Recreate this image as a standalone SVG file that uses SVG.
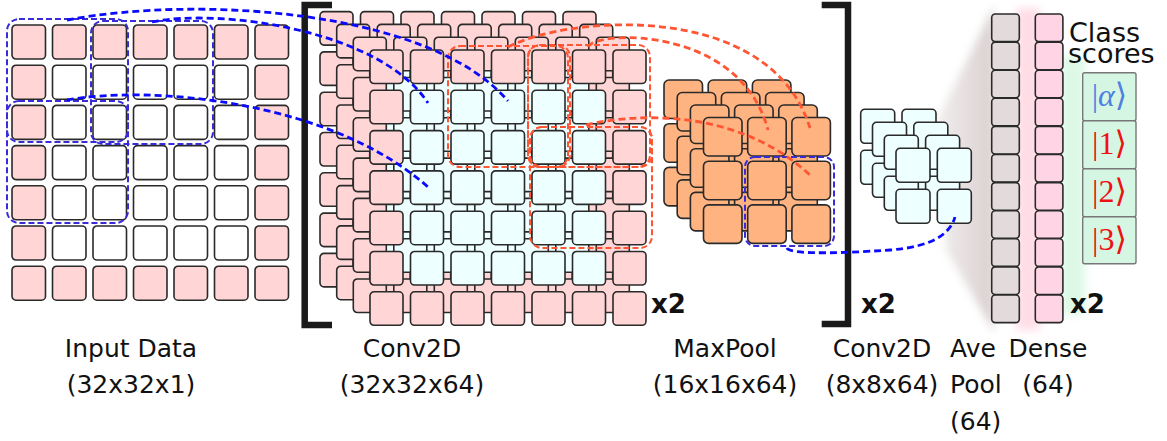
<svg xmlns="http://www.w3.org/2000/svg" xmlns:xlink="http://www.w3.org/1999/xlink" width="1167" height="441" viewBox="0 0 1167 441">
<style>
.cell{stroke:#2a2a2a;stroke-width:1.6}
.p{fill:#ffd5d5}.w{fill:#ffffff}.c{fill:#eeffff}.o{fill:#ffb380}.g{fill:#e3dbdb}.d{fill:#ffd5e5}
.bd{fill:none;stroke:#0a0aff;stroke-width:2.8;stroke-dasharray:7 4}
.br{fill:none;stroke:#3a2bd8;stroke-width:2;stroke-dasharray:6 3}
.rd{fill:none;stroke:#ff5533;stroke-width:2.8;stroke-dasharray:7 4}
.rr{fill:none;stroke:#ff5533;stroke-width:2;stroke-dasharray:6 3}
.lbl{font-family:"DejaVu Sans","Liberation Sans",sans-serif;font-size:25px;fill:#111}
.x2{font-family:"DejaVu Sans","Liberation Sans",sans-serif;font-weight:bold;font-size:26px;fill:#111}
.br6{fill:none;stroke:#1a1a1a;stroke-width:6.5}
.ket{font-family:"Liberation Serif","DejaVu Serif",serif;font-size:32px;text-anchor:middle}
.box{fill:#d5f6e3;stroke:#777;stroke-width:1.4}
</style>
<defs>
<filter id="blur" x="-50%" y="-20%" width="200%" height="140%"><feGaussianBlur stdDeviation="4"/></filter>
<linearGradient id="gw" x1="0" y1="0" x2="1" y2="0"><stop offset="0" stop-color="#e2dada" stop-opacity="0.5"/><stop offset="1" stop-color="#d9cfcf" stop-opacity="1"/></linearGradient>
<g id="inP"><rect class="cell p" x="0" y="0" width="33.5" height="34" rx="4"/><rect class="cell p" x="40.5" y="0" width="33.5" height="34" rx="4"/><rect class="cell p" x="81" y="0" width="33.5" height="34" rx="4"/><rect class="cell p" x="121.5" y="0" width="33.5" height="34" rx="4"/><rect class="cell p" x="162" y="0" width="33.5" height="34" rx="4"/><rect class="cell p" x="202.5" y="0" width="33.5" height="34" rx="4"/><rect class="cell p" x="243" y="0" width="33.5" height="34" rx="4"/></g>
<g id="inM"><rect class="cell p" x="0" y="0" width="33.5" height="34" rx="4"/><rect class="cell w" x="40.5" y="0" width="33.5" height="34" rx="4"/><rect class="cell w" x="81" y="0" width="33.5" height="34" rx="4"/><rect class="cell w" x="121.5" y="0" width="33.5" height="34" rx="4"/><rect class="cell w" x="162" y="0" width="33.5" height="34" rx="4"/><rect class="cell w" x="202.5" y="0" width="33.5" height="34" rx="4"/><rect class="cell p" x="243" y="0" width="33.5" height="34" rx="4"/></g>
<g id="cvP"><rect class="cell p" x="0" y="0" width="33" height="33.5" rx="4"/><rect class="cell p" x="40.5" y="0" width="33" height="33.5" rx="4"/><rect class="cell p" x="81" y="0" width="33" height="33.5" rx="4"/><rect class="cell p" x="121.5" y="0" width="33" height="33.5" rx="4"/><rect class="cell p" x="162" y="0" width="33" height="33.5" rx="4"/><rect class="cell p" x="202.5" y="0" width="33" height="33.5" rx="4"/><rect class="cell p" x="243" y="0" width="33" height="33.5" rx="4"/></g>
<g id="cvM"><rect class="cell p" x="0" y="0" width="33" height="33.5" rx="4"/><rect class="cell c" x="40.5" y="0" width="33" height="33.5" rx="4"/><rect class="cell c" x="81" y="0" width="33" height="33.5" rx="4"/><rect class="cell c" x="121.5" y="0" width="33" height="33.5" rx="4"/><rect class="cell c" x="162" y="0" width="33" height="33.5" rx="4"/><rect class="cell c" x="202.5" y="0" width="33" height="33.5" rx="4"/><rect class="cell p" x="243" y="0" width="33" height="33.5" rx="4"/></g>
<g id="cvL"><use href="#cvP" y="0"/><use href="#cvM" y="40.3"/><use href="#cvM" y="80.6"/><use href="#cvM" y="120.9"/><use href="#cvM" y="161.2"/><use href="#cvM" y="201.5"/><use href="#cvP" y="241.8"/></g>
<g id="mpL"><rect class="cell o" x="0" y="0" width="38.5" height="38.5" rx="5"/><rect class="cell o" x="44.2" y="0" width="38.5" height="38.5" rx="5"/><rect class="cell o" x="88.4" y="0" width="38.5" height="38.5" rx="5"/><rect class="cell o" x="0" y="43.7" width="38.5" height="38.5" rx="5"/><rect class="cell o" x="44.2" y="43.7" width="38.5" height="38.5" rx="5"/><rect class="cell o" x="88.4" y="43.7" width="38.5" height="38.5" rx="5"/><rect class="cell o" x="0" y="87.4" width="38.5" height="38.5" rx="5"/><rect class="cell o" x="44.2" y="87.4" width="38.5" height="38.5" rx="5"/><rect class="cell o" x="88.4" y="87.4" width="38.5" height="38.5" rx="5"/></g>
<g id="scL"><rect class="cell c" x="0" y="0" width="34" height="34" rx="4"/><rect class="cell c" x="41.3" y="0" width="34" height="34" rx="4"/><rect class="cell c" x="0" y="41" width="34" height="34" rx="4"/><rect class="cell c" x="41.3" y="41" width="34" height="34" rx="4"/></g>
</defs>
<rect width="1167" height="441" fill="#ffffff"/>

<g id="glow">
<polygon points="938,118 994,6 994,332 946,250" fill="url(#gw)" filter="url(#blur)"/>
<rect x="1016" y="8" width="24" height="322" fill="#ffdde7" filter="url(#blur)"/>
<rect x="1061" y="55" width="24" height="260" fill="#ddf9e6" filter="url(#blur)"/>
</g>

<g id="input-data">
<use href="#inP" x="12" y="25"/><use href="#inM" x="12" y="65.2"/><use href="#inM" x="12" y="105.4"/><use href="#inM" x="12" y="145.6"/><use href="#inM" x="12" y="185.8"/><use href="#inM" x="12" y="226"/><use href="#inP" x="12" y="266.2"/>
<rect class="br" x="7" y="19" width="121" height="204" rx="12"/>
<rect class="br" x="91" y="21" width="122" height="123" rx="12"/>
<rect class="br" x="7" y="101" width="121" height="41" rx="12"/>
<text class="lbl" x="131" y="357" text-anchor="middle">Input Data</text>
<text class="lbl" x="131" y="393" text-anchor="middle">(32x32x1)</text>
</g>

<g id="brackets">
<path class="br6" d="M332,5 H304.7 V325 H332"/>
<path class="br6" d="M821.7,5 H848 V324 H821.7"/>
<text class="x2" x="861" y="313">x2</text>
</g>

<g id="conv2d-1">
<use href="#cvL" x="320" y="11.6"/>
<use href="#cvL" x="336.7" y="24.4"/>
<use href="#cvL" x="353.3" y="37.2"/>
<use href="#cvL" x="370" y="50"/>
<rect class="rr" x="448" y="46" width="120" height="121" rx="12"/>
<rect class="rr" x="528" y="45" width="122" height="122" rx="12"/>
<rect class="rr" x="528" y="45" width="42" height="122" rx="12"/>
<rect class="rr" x="530" y="127" width="122" height="40" rx="12"/>
<rect class="rr" x="530" y="127" width="122" height="121" rx="12"/>
<text class="x2" x="651" y="313">x2</text>
<text class="lbl" x="412" y="357" text-anchor="middle">Conv2D</text>
<text class="lbl" x="412" y="393" text-anchor="middle">(32x32x64)</text>
</g>

<g id="maxpool">
<use href="#mpL" x="664" y="80"/>
<use href="#mpL" x="677.2" y="92.5"/>
<use href="#mpL" x="690.4" y="105"/>
<use href="#mpL" x="703.5" y="117.5"/>
<rect class="br" x="745" y="157" width="89" height="89" rx="10"/>
<text class="lbl" x="725" y="357" text-anchor="middle">MaxPool</text>
<text class="lbl" x="725" y="393" text-anchor="middle">(16x16x64)</text>
</g>

<g id="conv2d-2">
<use href="#scL" x="860.7" y="109.3"/>
<use href="#scL" x="872.5" y="122.3"/>
<use href="#scL" x="884.3" y="135.3"/>
<use href="#scL" x="896" y="148.3"/>
<text class="lbl" x="882" y="357" text-anchor="middle">Conv2D</text>
<text class="lbl" x="882" y="393" text-anchor="middle">(8x8x64)</text>
</g>

<g id="ave-pool">
<rect class="cell g" x="991.7" y="14" width="27.6" height="27.6" rx="3.5"/>
<rect class="cell g" x="991.7" y="42.1" width="27.6" height="27.6" rx="3.5"/>
<rect class="cell g" x="991.7" y="70.2" width="27.6" height="27.6" rx="3.5"/>
<rect class="cell g" x="991.7" y="98.3" width="27.6" height="27.6" rx="3.5"/>
<rect class="cell g" x="991.7" y="126.4" width="27.6" height="27.6" rx="3.5"/>
<rect class="cell g" x="991.7" y="154.5" width="27.6" height="27.6" rx="3.5"/>
<rect class="cell g" x="991.7" y="182.6" width="27.6" height="27.6" rx="3.5"/>
<rect class="cell g" x="991.7" y="210.7" width="27.6" height="27.6" rx="3.5"/>
<rect class="cell g" x="991.7" y="238.8" width="27.6" height="27.6" rx="3.5"/>
<rect class="cell g" x="991.7" y="266.9" width="27.6" height="27.6" rx="3.5"/>
<rect class="cell g" x="991.7" y="295" width="27.6" height="27.6" rx="3.5"/>
<text class="lbl" x="950" y="357">Ave</text>
<text class="lbl" x="950" y="393">Pool</text>
<text class="lbl" x="950" y="430">(64)</text>
</g>

<g id="dense">
<rect class="cell d" x="1035.3" y="14" width="27.6" height="27.6" rx="3.5"/>
<rect class="cell d" x="1035.3" y="42.1" width="27.6" height="27.6" rx="3.5"/>
<rect class="cell d" x="1035.3" y="70.2" width="27.6" height="27.6" rx="3.5"/>
<rect class="cell d" x="1035.3" y="98.3" width="27.6" height="27.6" rx="3.5"/>
<rect class="cell d" x="1035.3" y="126.4" width="27.6" height="27.6" rx="3.5"/>
<rect class="cell d" x="1035.3" y="154.5" width="27.6" height="27.6" rx="3.5"/>
<rect class="cell d" x="1035.3" y="182.6" width="27.6" height="27.6" rx="3.5"/>
<rect class="cell d" x="1035.3" y="210.7" width="27.6" height="27.6" rx="3.5"/>
<rect class="cell d" x="1035.3" y="238.8" width="27.6" height="27.6" rx="3.5"/>
<rect class="cell d" x="1035.3" y="266.9" width="27.6" height="27.6" rx="3.5"/>
<rect class="cell d" x="1035.3" y="295" width="27.6" height="27.6" rx="3.5"/>
<text class="x2" x="1070" y="313">x2</text>
<text class="lbl" x="1048" y="357" text-anchor="middle">Dense</text>
<text class="lbl" x="1048" y="393" text-anchor="middle">(64)</text>
</g>

<g id="class-scores">
<text class="lbl" x="1069" y="42" style="font-size:27px">Class</text>
<text class="lbl" x="1068" y="63" style="font-size:27px">scores</text>
<rect class="box" x="1082.7" y="72.7" width="53.3" height="48" rx="2"/>
<rect class="box" x="1082.7" y="120.7" width="53.3" height="48" rx="2"/>
<rect class="box" x="1082.7" y="168.7" width="53.3" height="48" rx="2"/>
<rect class="box" x="1082.7" y="216.7" width="53.3" height="47" rx="2"/>
<text class="ket" x="1109.5" y="106" fill="#4f7fe0">|<tspan font-style="italic">α</tspan>⟩</text>
<text class="ket" x="1109.5" y="154" fill="#ee1111">|1⟩</text>
<text class="ket" x="1109.5" y="202" fill="#ee1111">|2⟩</text>
<text class="ket" x="1109.5" y="249.5" fill="#ee1111">|3⟩</text>
</g>

<g id="connectors">
<path class="bd" d="M67,20 C200,-5 430,10 508,101"/>
<path class="bd" d="M152,22 C220,8 380,30 428,103"/>
<path class="bd" d="M67,100 C150,85 330,100 428,187"/>
<path class="rd" d="M508,47 C570,15 770,0 810,128"/>
<path class="rd" d="M588,47 C595,30 740,25 768,130"/>
<path class="rd" d="M586,125 C640,112 740,110 810,175"/>
<path class="bd" d="M787,248 C790,256 860,252 890,250 C930,247 950,235 955,217"/>
</g>
</svg>
